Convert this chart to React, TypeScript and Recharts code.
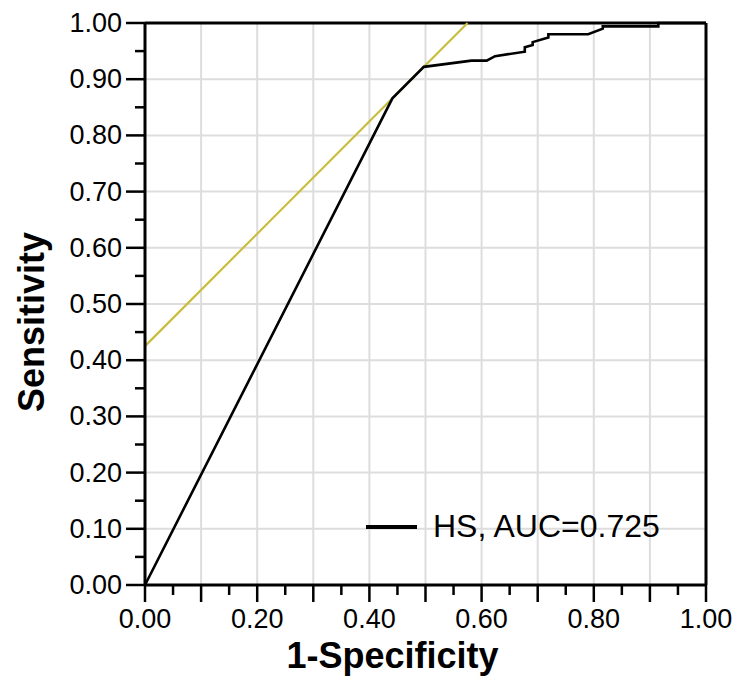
import { LineChart, Line, XAxis, YAxis, CartesianGrid, ReferenceLine, Legend, Label } from "recharts"

const FONT = "'Liberation Sans', Arial, Helvetica, sans-serif"

// ROC curve (1-specificity, sensitivity)
const rocFpr = [0, 0.441, 0.497, 0.582, 0.609, 0.624, 0.677, 0.677, 0.691, 0.691, 0.719, 0.719, 0.79, 0.816, 0.816, 0.915, 0.915, 1]
const rocTpr = [0, 0.866, 0.922, 0.933, 0.933, 0.941, 0.949, 0.957, 0.961, 0.966, 0.974, 0.98, 0.98, 0.99, 0.994, 0.994, 1, 1]

// tangent / cutoff line
const cutFpr = [0, 0.575]
const cutTpr = [0.425, 1]

const axisTicks = [0, 0.05, 0.1, 0.15, 0.2, 0.25, 0.3, 0.35, 0.4, 0.45, 0.5, 0.55, 0.6, 0.65, 0.7, 0.75, 0.8, 0.85, 0.9, 0.95, 1]
const gridValues = [0, 0.1, 0.2, 0.3, 0.4, 0.5, 0.6, 0.7, 0.8, 0.9, 1]

const legendLabel = "HS, AUC=0.725"

const rocData = rocFpr.map((x, i) => ({ x, y: rocTpr[i] }))
const cutData = cutFpr.map((x, i) => ({ x, y: cutTpr[i] }))

const hundredths = (v: number) => Math.round(v * 100)

function YTick(props: any) {
  const { x, y, payload } = props
  const major = hundredths(payload.value) % 10 === 0
  return (
    <g>
      <line x1={x - (major ? 19 : 10)} x2={x} y1={y} y2={y} stroke="#000" strokeWidth={2.5} />
      {major && (
        <text x={x - 23} y={y} dy="0.33em" textAnchor="end" fontSize={27} fontFamily={FONT} fill="#000">
          {payload.value.toFixed(2)}
        </text>
      )}
    </g>
  )
}

function XTick(props: any) {
  const { x, y, payload } = props
  const h = hundredths(payload.value)
  const major = h % 10 === 0
  const labelled = h % 20 === 0
  return (
    <g>
      <line x1={x} x2={x} y1={y} y2={y + (major ? 17 : 10)} stroke="#000" strokeWidth={2.5} />
      {labelled && (
        <text x={x} y={y + 43} textAnchor="middle" fontSize={27} fontFamily={FONT} fill="#000">
          {payload.value.toFixed(2)}
        </text>
      )}
    </g>
  )
}

function renderLegend() {
  return (
    <div style={{ display: "flex", alignItems: "center", fontFamily: FONT, fontSize: 32, color: "#000", whiteSpace: "nowrap" }}>
      <span style={{ display: "inline-block", width: 51, height: 4, background: "#000", marginRight: 16 }} />
      <span>{legendLabel}</span>
    </div>
  )
}

export default function App() {
  return (
    <div style={{ position: "absolute", left: 0, top: 0, background: "#fff" }}>
      <LineChart width={736} height={684} margin={{ top: 23, right: 30, bottom: 0, left: 0 }}>
        <CartesianGrid
          horizontalValues={gridValues}
          verticalValues={gridValues}
          stroke="#dddddd"
          strokeWidth={2}
        />
        <XAxis
          type="number"
          dataKey="x"
          domain={[0, 1]}
          ticks={axisTicks}
          interval={0}
          height={99}
          tickSize={0}
          tickMargin={0}
          tickLine={false}
          tick={<XTick />}
          axisLine={{ stroke: "#000", strokeWidth: 3 }}
          label={
            <Label
              content={(p: any) => {
                const vb = p.viewBox
                return (
                  <text x={vb.x + vb.width / 2 - 33} y={vb.y + 83} textAnchor="middle" fontSize={36} fontWeight="bold" fontFamily={FONT} fill="#000">
                    1-Specificity
                  </text>
                )
              }}
            />
          }
        />
        <YAxis
          type="number"
          dataKey="y"
          domain={[0, 1]}
          ticks={axisTicks}
          interval={0}
          width={145}
          tickSize={0}
          tickMargin={0}
          tickLine={false}
          tick={<YTick />}
          axisLine={{ stroke: "#000", strokeWidth: 3 }}
          label={
            <Label
              content={(p: any) => {
                const vb = p.viewBox
                const cx = vb.x + 44
                const cy = vb.y + vb.height / 2 + 18
                return (
                  <text x={cx} y={cy} transform={`rotate(-90, ${cx}, ${cy})`} textAnchor="middle" fontSize={36} fontWeight="bold" fontFamily={FONT} fill="#000">
                    Sensitivity
                  </text>
                )
              }}
            />
          }
        />
        <ReferenceLine y={1} stroke="#000" strokeWidth={3} />
        <ReferenceLine x={1} stroke="#000" strokeWidth={3} />
        <Line
          data={cutData}
          dataKey="y"
          type="linear"
          stroke="#c9bd3c"
          strokeWidth={2.2}
          dot={false}
          activeDot={false}
          legendType="none"
          isAnimationActive={false}
        />
        <Line
          data={rocData}
          dataKey="y"
          name={legendLabel}
          type="linear"
          stroke="#000"
          strokeWidth={2.6}
          dot={false}
          activeDot={false}
          isAnimationActive={false}
        />
        <Legend
          layout="horizontal"
          verticalAlign="middle"
          align="center"
          content={renderLegend}
          wrapperStyle={{ left: 366, top: 508, width: "auto" }}
        />
      </LineChart>
    </div>
  )
}
